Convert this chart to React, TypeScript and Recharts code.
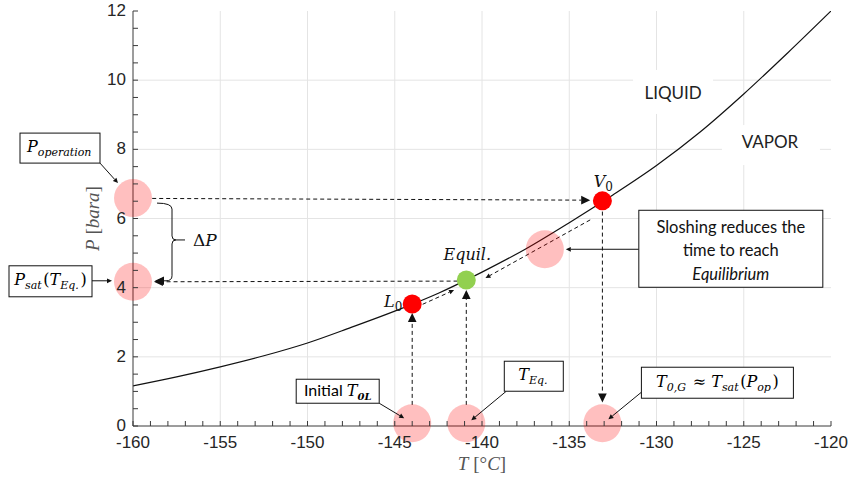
import React from 'react';
import { ComposedChart, Line, Scatter, XAxis, YAxis, ReferenceLine, ReferenceDot } from 'recharts';

// saturation curve
const tempC = [-160, -157.5, -155, -152.5, -150, -147.5, -145, -142.5, -140, -137.5, -135, -132.5, -130, -127.5, -125, -122.5, -120];
const psat = [1.16, 1.42, 1.71, 2.03, 2.4, 2.85, 3.32, 3.84, 4.45, 5.12, 5.88, 6.68, 7.53, 8.5, 9.6, 10.78, 12.0];

// highlighted (pink) spots
const spotT = [-160, -160, -136.4, -144.0, -140.9, -133.1];
const spotP = [6.59, 4.17, 5.11, 0.08, 0.08, 0.08];

// state points
const stateNames = ['L0', 'Equil.', 'V0'];
const stateT = [-144.0, -140.9, -133.1];
const stateP = [3.53, 4.22, 6.51];
const stateColors = ['#ff0000', '#92d050', '#ff0000'];

// dashed process arrows: [tFrom, pFrom, tTo, pTo]
const processArrows = [
  [-158.9, 6.58, -133.8, 6.53],
  [-141.4, 4.19, -158.8, 4.17],
  [-133.1, 6.2, -133.1, 0.68],
  [-144.0, 0.61, -144.0, 3.27],
  [-140.9, 0.61, -140.9, 3.93],
  [-143.4, 3.52, -141.6, 3.93],
  [-133.8, 5.96, -139.8, 4.28],
];
const arrowHeads = [9, 9, 9, 9, 9, 5, 5];

const regionNames = ['LIQUID', 'VAPOR'];
const regionT = [-129.05, -123.5];
const regionP = [9.63, 8.21];

const xTicks = Array.from({ length: 41 }, (_, i) => -160 + i);
const yTicks = Array.from({ length: 25 }, (_, i) => i * 0.5);
const xGrid = [-155, -150, -145, -140, -135, -130, -125];
const yGrid = [2, 4, 6, 8, 10];

const curve = tempC.map((t, i) => ({ t, p: psat[i] }));
const states = stateT.map((t, i) => ({ t, p: stateP[i], name: stateNames[i], color: stateColors[i] }));

const AX = '#3a3a3a';
const MATH = "'DejaVu Serif', serif";
const SANS = "Lato, 'Open Sans', sans-serif";

const arrowPath = (x1: number, y1: number, x2: number, y2: number, head: number, dashed: boolean) => {
  const dx = x2 - x1, dy = y2 - y1;
  const len = Math.hypot(dx, dy) || 1;
  const ux = dx / len, uy = dy / len;
  const bx = x2 - ux * head, by = y2 - uy * head;
  const hw = head * 0.48;
  const pts = `${x2},${y2} ${bx - uy * hw},${by + ux * hw} ${bx + uy * hw},${by - ux * hw}`;
  return (
    <g>
      <line x1={x1} y1={y1} x2={bx} y2={by} stroke="#111" strokeWidth={1} strokeDasharray={dashed ? '4 3' : undefined} />
      <polygon points={pts} fill="#111" />
    </g>
  );
};

const XTickBottom = (props: any) => {
  const { x, y, payload } = props;
  const v = payload.value;
  return (
    <g>
      <line x1={x} x2={x} y1={y} y2={y - 5} stroke={AX} />
      {v % 5 === 0 && (
        <text x={x} y={y + 22} textAnchor="middle" fontSize={17} fontFamily="'Liberation Sans', Arial, sans-serif" fill="#262626">
          {v}
        </text>
      )}
    </g>
  );
};
const XTickTop = (props: any) => <line x1={props.x} x2={props.x} y1={props.y} y2={props.y + 5} stroke={AX} />;
const YTickLeft = (props: any) => {
  const { x, y, payload } = props;
  const v = payload.value;
  return (
    <g>
      <line x1={x} x2={x + 5} y1={y} y2={y} stroke={AX} />
      {v % 2 === 0 && (
        <text x={x - 7} y={y + 5} textAnchor="end" fontSize={17} fontFamily="'Liberation Sans', Arial, sans-serif" fill="#262626">
          {v}
        </text>
      )}
    </g>
  );
};
const YTickRight = (props: any) => <line x1={props.x} x2={props.x - 5} y1={props.y} y2={props.y} stroke={AX} />;

const XTitle = (props: any) => {
  const vb = props.viewBox || { x: 133, y: 426, width: 698, height: 53 };
  return (
    <text x={vb.x + vb.width / 2} y={vb.y + 44} textAnchor="middle" fontSize={19} fontFamily="'Liberation Serif', serif" fill="#555">
      <tspan fontStyle="italic">T</tspan>
      <tspan> [°</tspan>
      <tspan fontStyle="italic">C</tspan>
      <tspan>]</tspan>
    </text>
  );
};
const YTitle = (props: any) => {
  const vb = props.viewBox || { x: 0, y: 11, width: 133, height: 415 };
  const cx = 99;
  const cy = vb.y + vb.height / 2;
  return (
    <text x={cx} y={cy} transform={`rotate(-90, ${cx}, ${cy})`} textAnchor="middle" fontSize={19} fontFamily="'Liberation Serif', serif" fill="#555">
      <tspan fontStyle="italic">P</tspan>
      <tspan> [</tspan>
      <tspan fontStyle="italic">bara</tspan>
      <tspan>]</tspan>
    </text>
  );
};

const SpotShape = (props: any) => <circle cx={props.cx} cy={props.cy} r={19} fill="rgb(255,0,0)" fillOpacity={0.25} />;

const labelOffsets: Record<string, [number, number]> = { L0: [-19, 3], 'Equil.': [1, -20], V0: [1, -14] };

const StateShape = (props: any) => {
  const { cx, cy, payload } = props;
  const [ox, oy] = labelOffsets[payload.name];
  const sub = payload.name.endsWith('0');
  return (
    <g>
      <circle cx={cx} cy={cy} r={9.5} fill={payload.color} />
      <text x={cx + ox} y={cy + oy} textAnchor="middle" fontSize={16} fontFamily={MATH} fill="#111">
        {sub ? (
          <>
            <tspan fontStyle="italic">{payload.name[0]}</tspan>
            <tspan fontSize={12} dy={4}>0</tspan>
          </>
        ) : (
          <tspan fontStyle="italic">{payload.name}</tspan>
        )}
      </text>
    </g>
  );
};

const Sub = ({ children }: { children: React.ReactNode }) => (
  <>
    <tspan fontSize={11} dy={4} fontStyle="italic">{children}</tspan>
    <tspan dy={-4}>{'\u200a'}</tspan>
  </>
);
const It = ({ children }: { children: React.ReactNode }) => <tspan fontStyle="italic">{children}</tspan>;

// callout boxes, anchored on the pink spots; box / arrow are px offsets from the spot
const callouts: { at: number; box: number[]; arrow: number[]; body: (x: number, y: number) => React.ReactNode }[] = [
  {
    at: 0, box: [-113, -65, 80, 30], arrow: [-33, -35, -15, -15],
    body: (x, y) => (
      <text x={x} y={y + 4} textAnchor="middle" fontSize={16} fontFamily={MATH} fill="#000">
        <It>P</It><Sub>operation</Sub>
      </text>
    ),
  },
  {
    at: 1, box: [-124, -16, 83, 31], arrow: [-41, -1, -21, -1],
    body: (x, y) => (
      <text x={x} y={y + 4} textAnchor="middle" fontSize={16} fontFamily={MATH} fill="#000">
        <It>P</It><Sub>sat</Sub><tspan>(</tspan><It>T</It><Sub>Eq.</Sub><tspan>)</tspan>
      </text>
    ),
  },
  {
    at: 3, box: [-116, -44, 83, 24], arrow: [-33, -20, -8, -5],
    body: (x, y) => (
      <text x={x} y={y + 5} textAnchor="middle" fontSize={16} fill="#000">
        <tspan fontFamily={SANS}>Initial </tspan>
        <tspan fontFamily={MATH} fontStyle="italic">T</tspan>
        <tspan fontFamily={MATH} fontStyle="italic" fontWeight="bold" fontSize={10} dy={4}>0L</tspan>
      </text>
    ),
  },
  {
    at: 4, box: [38, -62, 59, 30], arrow: [40, -32, 5, -3],
    body: (x, y) => (
      <text x={x} y={y + 4} textAnchor="middle" fontSize={16} fontFamily={MATH} fill="#000">
        <It>T</It><Sub>Eq.</Sub>
      </text>
    ),
  },
  {
    at: 5, box: [39, -56, 152, 31], arrow: [39, -31, 6, -4],
    body: (x, y) => (
      <text x={x} y={y + 4} textAnchor="middle" fontSize={16} fontFamily={MATH} fill="#000">
        <It>T</It><Sub>0,G</Sub><tspan> ≈ </tspan><It>T</It><Sub>sat</Sub><tspan>(</tspan><It>P</It><Sub>op</Sub><tspan>)</tspan>
      </text>
    ),
  },
  {
    at: 2, box: [94, -39, 184, 77], arrow: [94, 0, 21, 0],
    body: (x, y) => (
      <text x={x} y={y} textAnchor="middle" fontSize={16.5} fontFamily={SANS} fill="#111">
        <tspan x={x} dy={-16}>Sloshing reduces the</tspan>
        <tspan x={x} dy={23}>time to reach</tspan>
        <tspan x={x} dy={24} fontStyle="italic">Equilibrium</tspan>
      </text>
    ),
  },
];

const CalloutShape = (c: (typeof callouts)[number]) => (props: any) => {
  const { cx, cy } = props;
  const [bx, by, w, h] = c.box;
  const [a1, a2, a3, a4] = c.arrow;
  return (
    <g>
      {arrowPath(cx + a1, cy + a2, cx + a3, cy + a4, 5, false)}
      <rect x={cx + bx} y={cy + by} width={w} height={h} fill="#fff" stroke="#111" strokeWidth={1} />
      {c.body(cx + bx + w / 2, cy + by + h / 2)}
    </g>
  );
};

const BraceShape = (props: any) => {
  const { x1, y1, y2 } = props;
  const top = y1 + 5;
  const bot = y2 - 1;
  const mid = (y1 + y2) / 2;
  const vx = x1 + 39;
  return (
    <g>
      <path
        d={`M ${x1 + 24} ${top} Q ${vx} ${top} ${vx} ${top + 6} L ${vx} ${mid - 4} Q ${vx} ${mid} ${vx + 4} ${mid} Q ${vx} ${mid} ${vx} ${mid + 4} L ${vx} ${bot - 5} Q ${vx} ${bot} ${vx - 6} ${bot} L ${x1 + 31} ${bot}`}
        fill="none"
        stroke="#111"
      />
      {arrowPath(x1 + 31, bot, x1 + 22, bot, 9, false)}
      <line x1={vx + 4} y1={mid} x2={x1 + 52} y2={mid} stroke="#111" />
      <text x={x1 + 60} y={mid + 6} fontSize={17} fontFamily={MATH} fill="#111">
        <tspan>Δ</tspan>
        <tspan fontStyle="italic">P</tspan>
      </text>
    </g>
  );
};

const regionBoxes: Record<string, number[]> = { LIQUID: [-40, -23, 80, 44], VAPOR: [-48, -17, 98, 40] };
const RegionShape = (name: string) => (props: any) => {
  const { cx, cy } = props;
  const [bx, by, w, h] = regionBoxes[name];
  return (
    <g>
      <rect x={cx + bx} y={cy + by} width={w} height={h} fill="#fff" />
      <text x={cx} y={cy + 6} textAnchor="middle" fontSize={17} fontFamily={SANS} fill="#222">
        {name}
      </text>
    </g>
  );
};

export default function App() {
  const ax = { xAxisId: 'b', yAxisId: 'l' };
  return (
    <div style={{ position: 'absolute', left: 0, top: 0, width: 849, height: 479, background: '#fff' }}>
      <ComposedChart width={849} height={479} data={curve} margin={{ top: 11, right: 18, bottom: 0, left: 0 }}>
        <XAxis
          xAxisId="b"
          dataKey="t"
          type="number"
          domain={[-160, -120]}
          ticks={xTicks}
          interval={0}
          allowDataOverflow
          height={53}
          tickSize={0}
          tickMargin={0}
          tickLine={false}
          tick={<XTickBottom />}
          axisLine={{ stroke: AX }}
          label={<XTitle />}
        />
        <XAxis
          xAxisId="t"
          orientation="top"
          dataKey="t"
          type="number"
          domain={[-160, -120]}
          ticks={xTicks}
          interval={0}
          allowDataOverflow
          height={0}
          tickSize={0}
          tickMargin={0}
          tickLine={false}
          tick={<XTickTop />}
          axisLine={{ stroke: AX }}
        />
        <YAxis
          yAxisId="l"
          type="number"
          domain={[0, 12]}
          ticks={yTicks}
          interval={0}
          allowDataOverflow
          width={133}
          tickSize={0}
          tickMargin={0}
          tickLine={false}
          tick={<YTickLeft />}
          axisLine={{ stroke: AX }}
          label={<YTitle />}
        />
        <YAxis
          yAxisId="r"
          orientation="right"
          type="number"
          domain={[0, 12]}
          ticks={yTicks}
          interval={0}
          allowDataOverflow
          width={0}
          tickSize={0}
          tickMargin={0}
          tickLine={false}
          tick={<YTickRight />}
          axisLine={{ stroke: AX }}
        />

        {xGrid.map((v) => (
          <ReferenceLine key={`gx${v}`} {...ax} x={v} stroke="#e4e4e4" strokeWidth={1} zIndex={-100} />
        ))}
        {yGrid.map((v) => (
          <ReferenceLine key={`gy${v}`} {...ax} y={v} stroke="#e4e4e4" strokeWidth={1} zIndex={-100} />
        ))}

        {regionNames.map((n, i) => (
          <ReferenceDot key={n} {...ax} x={regionT[i]} y={regionP[i]} r={0} ifOverflow="visible" shape={RegionShape(n)} zIndex={-50} />
        ))}

        <Line {...ax} dataKey="p" type="monotone" stroke="#111" strokeWidth={1.2} dot={false} activeDot={false} isAnimationActive={false} />

        {processArrows.map((a, i) => (
          <ReferenceLine
            key={`pa${i}`}
            {...ax}
            segment={[{ x: a[0], y: a[1] }, { x: a[2], y: a[3] }]}
            ifOverflow="visible"
            shape={(p: any) => arrowPath(p.x1, p.y1, p.x2, p.y2, arrowHeads[i], true)}
            zIndex={450}
          />
        ))}

        <ReferenceLine
          {...ax}
          segment={[{ x: spotT[0], y: spotP[0] }, { x: spotT[1], y: spotP[1] }]}
          ifOverflow="visible"
          shape={BraceShape}
          zIndex={450}
        />

        {spotT.map((t, i) => (
          <ReferenceDot key={`sp${i}`} {...ax} x={t} y={spotP[i]} r={19} ifOverflow="visible" shape={SpotShape} zIndex={600} />
        ))}
        <Scatter {...ax} data={states} dataKey="p" shape={StateShape} isAnimationActive={false} zIndex={650} />

        {callouts.map((c, i) => (
          <ReferenceDot
            key={`co${i}`}
            {...ax}
            x={spotT[c.at]}
            y={spotP[c.at]}
            r={0}
            ifOverflow="visible"
            shape={CalloutShape(c)}
            zIndex={700}
          />
        ))}
      </ComposedChart>
    </div>
  );
}
